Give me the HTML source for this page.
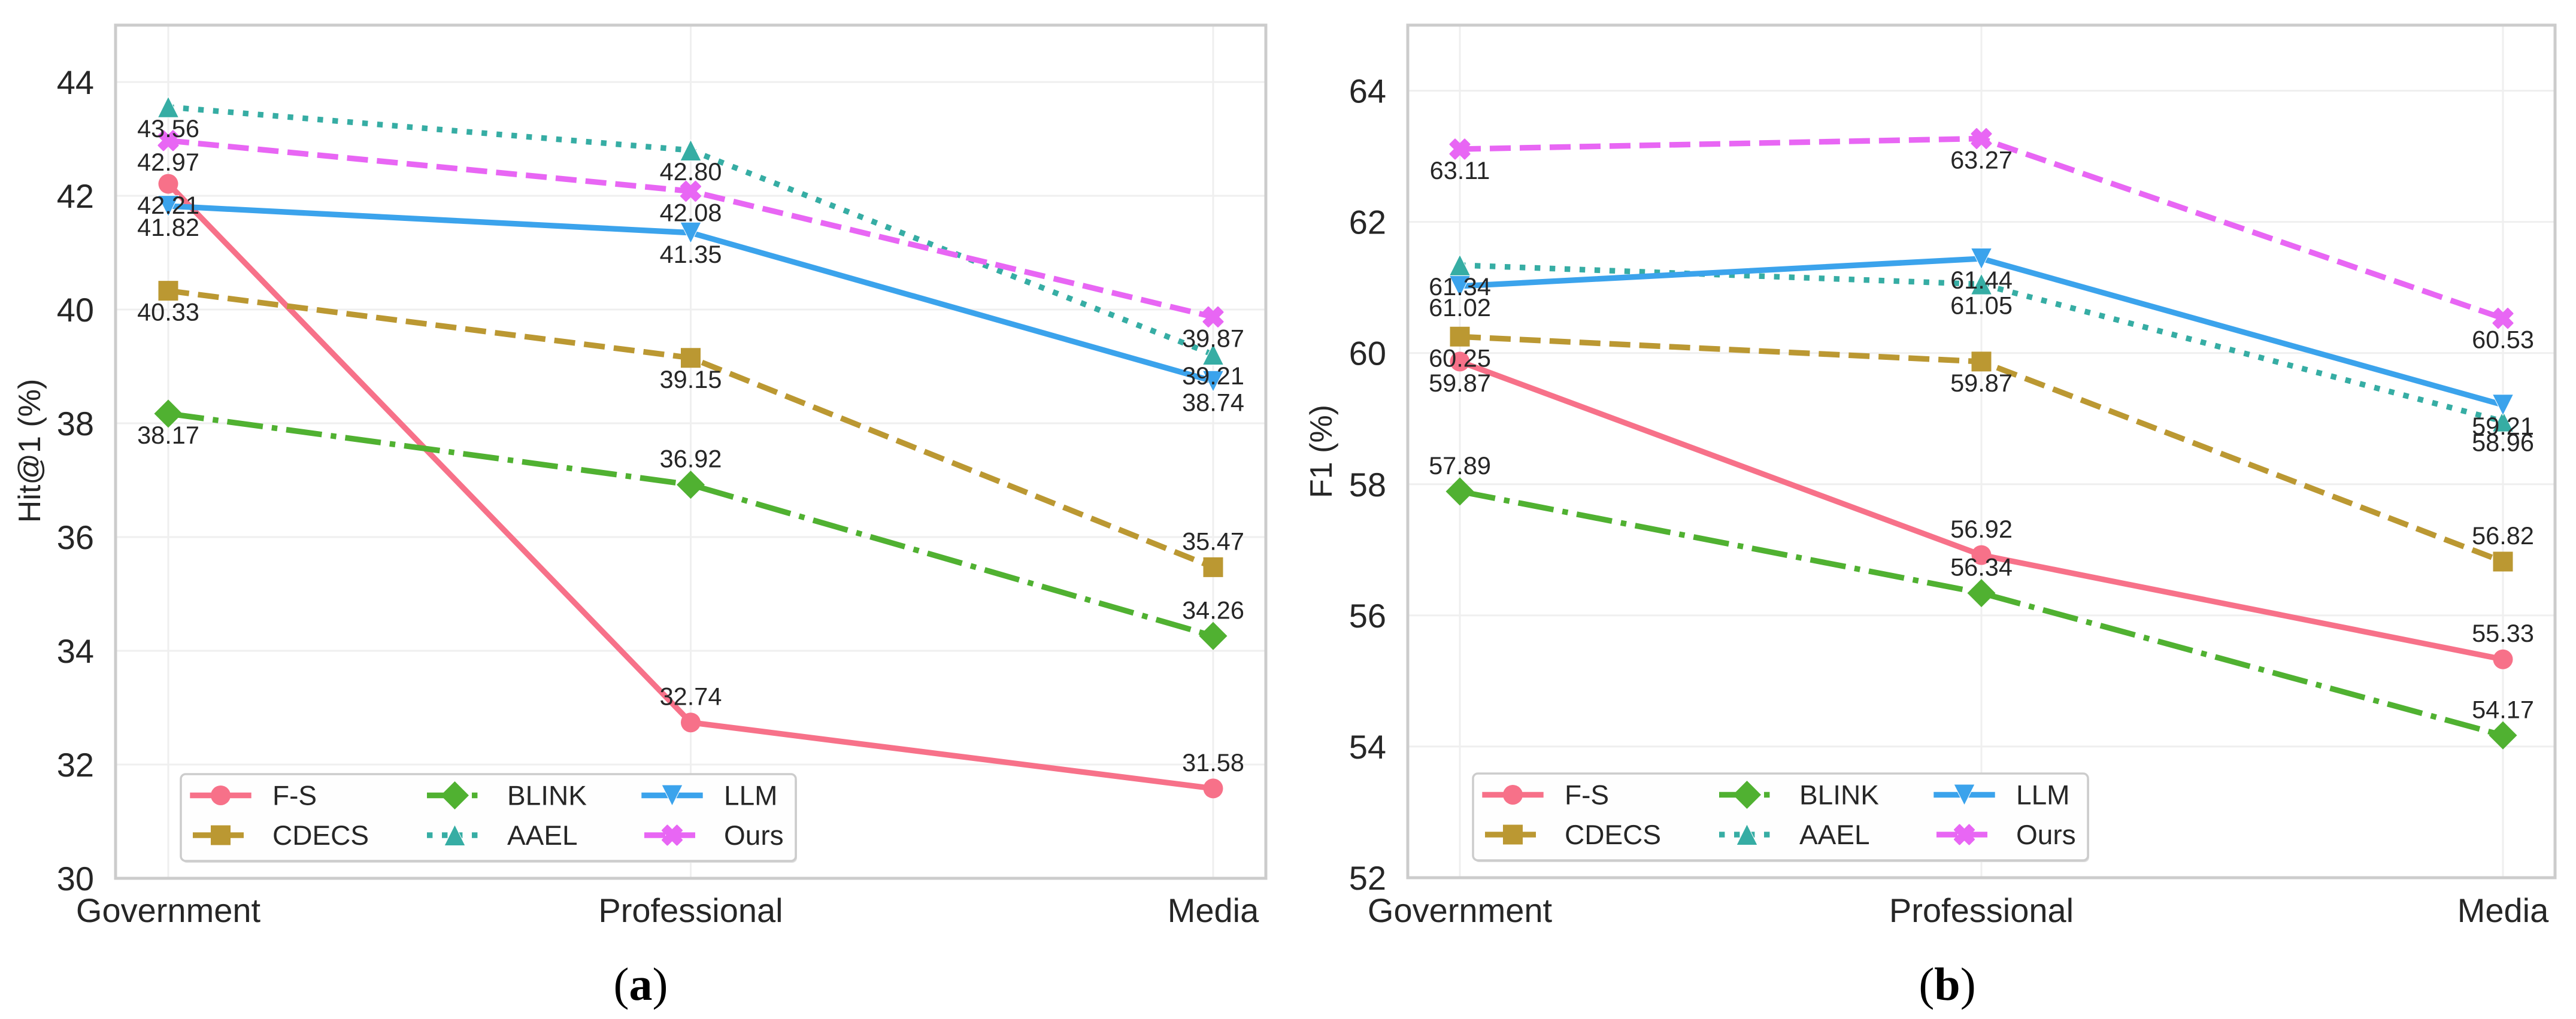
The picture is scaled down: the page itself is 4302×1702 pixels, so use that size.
<!DOCTYPE html>
<html lang="en">
<head>
<meta charset="utf-8">
<title>Hit@1 and F1 by domain</title>
<style>
  html, body { margin: 0; padding: 0; background: #ffffff; }
  svg { display: block; }
  text { font-family: "Liberation Sans", Arial, sans-serif; fill: #262626; text-rendering: geometricPrecision; }
  .caption { font-family: "Liberation Serif", "Times New Roman", serif; fill: #000000; }
</style>
</head>
<body>
<svg id="chart" xmlns="http://www.w3.org/2000/svg" width="4302" height="1702" viewBox="0 0 4302 1702"></svg>
<script>
// ---- Data ----
const categories = ['Government', 'Professional', 'Media'];
const seriesNames = ['F-S', 'CDECS', 'BLINK', 'AAEL', 'LLM', 'Ours'];

const hitFS    = [42.21, 32.74, 31.58];
const hitCDECS = [40.33, 39.15, 35.47];
const hitBLINK = [38.17, 36.92, 34.26];
const hitAAEL  = [43.56, 42.80, 39.21];
const hitLLM   = [41.82, 41.35, 38.74];
const hitOurs  = [42.97, 42.08, 39.87];

const f1FS    = [59.87, 56.92, 55.33];
const f1CDECS = [60.25, 59.87, 56.82];
const f1BLINK = [57.89, 56.34, 54.17];
const f1AAEL  = [61.34, 61.05, 58.96];
const f1LLM   = [61.02, 61.44, 59.21];
const f1Ours  = [63.11, 63.27, 60.53];

const hitTicks = [30, 32, 34, 36, 38, 40, 42, 44];
const f1Ticks  = [52, 54, 56, 58, 60, 62, 64];

// Which printed values sit above their marker (1) rather than below (0)
const hitAbove = [[0, 1, 1], [0, 0, 1], [0, 1, 1], [0, 0, 0], [0, 0, 0], [0, 0, 0]];
const f1Above  = [[0, 1, 1], [0, 0, 1], [1, 1, 1], [0, 0, 0], [0, 0, 0], [0, 0, 0]];

// ---- Styling ----
const LW = 9.4;
const seriesStyles = [
  { color: '#f77189', dash: '',             marker: 'circle'   },
  { color: '#bb9832', dash: '35 15',        marker: 'square'   },
  { color: '#50b131', dash: '60 15 9.4 15', marker: 'diamond'  },
  { color: '#36ada4', dash: '9.4 15.6',     marker: 'triangle' },
  { color: '#3ba3ec', dash: '',             marker: 'triangle-down' },
  { color: '#e866f4', dash: '35 15',        marker: 'x'        }
];

const panels = [
  {
    key: 'hit', title: 'Hit@1 (%)', caption: 'a', captionX: 1070,
    left: 193, right: 2114, top: 42, bottom: 1467,
    x0: 281, x2: 2026, yMin: 30, yMax: 45,
    ticks: hitTicks, above: hitAbove,
    values: [hitFS, hitCDECS, hitBLINK, hitAAEL, hitLLM, hitOurs],
    tickRight: 157, titleX: 67, titleY: 753
  },
  {
    key: 'f1', title: 'F1 (%)', caption: 'b', captionX: 3252,
    left: 2351, right: 4267, top: 42, bottom: 1466,
    x0: 2438, x2: 4180, yMin: 52, yMax: 65,
    ticks: f1Ticks, above: f1Above,
    values: [f1FS, f1CDECS, f1BLINK, f1AAEL, f1LLM, f1Ours],
    tickRight: 2315, titleX: 2224, titleY: 754
  }
];

// ---- Helpers ----
const NS = 'http://www.w3.org/2000/svg';
const root = document.getElementById('chart');

function mk(tag, attrs, parent, txt) {
  const node = document.createElementNS(NS, tag);
  for (const k in attrs) node.setAttribute(k, attrs[k]);
  if (txt !== undefined) node.textContent = txt;
  parent.appendChild(node);
  return node;
}

function slug(s) {
  return s.toLowerCase().replace(/[^a-z0-9]+/g, '-');
}

function markerPoints(kind, cx, cy) {
  if (kind === 'square') {
    const s = 16.5;
    return [[cx - s, cy - s], [cx + s, cy - s], [cx + s, cy + s], [cx - s, cy + s]];
  }
  if (kind === 'diamond') {
    const s = 23.5;
    return [[cx, cy - s], [cx + s, cy], [cx, cy + s], [cx - s, cy]];
  }
  if (kind === 'triangle') {
    const s = 17.5;
    return [[cx, cy - s], [cx + s, cy + s], [cx - s, cy + s]];
  }
  if (kind === 'triangle-down') {
    const s = 17.5;
    return [[cx - s, cy - s], [cx + s, cy - s], [cx, cy + s]];
  }
  const u = 8;
  const shape = [[-1, -2], [0, -1], [1, -2], [2, -1], [1, 0], [2, 1], [1, 2], [0, 1], [-1, 2], [-2, 1], [-1, 0], [-2, -1]];
  return shape.map(function (p) { return [cx + p[0] * u, cy + p[1] * u]; });
}

function drawMarker(kind, color, cx, cy, parent) {
  if (kind === 'circle') {
    return mk('circle', { cx: cx, cy: cy, r: 16.5, fill: color }, parent);
  }
  const pts = markerPoints(kind, cx, cy).map(function (p) { return p.join(','); }).join(' ');
  if (kind === 'x') {
    return mk('polygon', { points: pts, fill: color, stroke: color, 'stroke-width': 3, 'stroke-linejoin': 'round' }, parent);
  }
  if (kind === 'triangle' || kind === 'triangle-down') {
    return mk('polygon', { points: pts, fill: color, stroke: '#ffffff', 'stroke-width': 1 }, parent);
  }
  return mk('polygon', { points: pts, fill: color }, parent);
}

// ---- Panels ----
panels.forEach(function (p) {
  const panelGroup = mk('g', {}, root);
  
  

  const xScale = function (i) { return p.x0 + (p.x2 - p.x0) * i / (categories.length - 1); };
  const yScale = function (v) { return p.bottom - (v - p.yMin) * (p.bottom - p.top) / (p.yMax - p.yMin); };

  // Grid
  p.ticks.forEach(function (t) {
    const gridY = mk('line', { x1: p.left, x2: p.right, y1: yScale(t), y2: yScale(t), stroke: '#efefef', 'stroke-width': 3 }, panelGroup);
    
    
  });
  categories.forEach(function (c, i) {
    const gridX = mk('line', { x1: xScale(i), x2: xScale(i), y1: p.top, y2: p.bottom, stroke: '#efefef', 'stroke-width': 3 }, panelGroup);
    
    
  });

  // Frame
  const frame = mk('rect', { x: p.left, y: p.top, width: p.right - p.left, height: p.bottom - p.top, fill: 'none', stroke: '#cccccc', 'stroke-width': 5 }, panelGroup);
  
  

  // Axis tick labels
  p.ticks.forEach(function (t) {
    const tickLabel = mk('text', { x: p.tickRight, y: yScale(t) + 20, 'text-anchor': 'end', 'font-size': 56 }, panelGroup, String(t));
    
    
  });
  categories.forEach(function (c, i) {
    const catLabel = mk('text', { x: xScale(i), y: 1540, 'text-anchor': 'middle', 'font-size': 56 }, panelGroup, c);
    
    
  });

  // Y-axis title
  const yTitle = mk('text', { x: p.titleX, y: p.titleY, 'text-anchor': 'middle', 'font-size': 52, transform: 'rotate(-90 ' + p.titleX + ' ' + p.titleY + ')' }, panelGroup, p.title);
  
  

  // Series lines + markers
  p.values.forEach(function (vals, s) {
    const st = seriesStyles[s];
    const seriesGroup = mk('g', {}, panelGroup);
    
    

    const d = vals.map(function (v, i) { return (i ? 'L' : 'M') + xScale(i) + ' ' + yScale(v); }).join(' ');
    const attrs = { d: d, fill: 'none', stroke: st.color, 'stroke-width': LW, 'stroke-linejoin': 'round' };
    if (st.dash) attrs['stroke-dasharray'] = st.dash;
    const line = mk('path', attrs, seriesGroup);
    
    

    vals.forEach(function (v, i) {
      const mark = drawMarker(st.marker, st.color, xScale(i), yScale(v), seriesGroup);
      
      
    });
  });

  // Printed values (above all series)
  p.values.forEach(function (vals, s) {
    vals.forEach(function (v, i) {
      const cy = yScale(v) + (p.above[s][i] ? -44 : 35);
      const valueLabel = mk('text', { x: xScale(i), y: cy + 15, 'text-anchor': 'middle', 'font-size': 41.5 }, panelGroup, v.toFixed(2));
      
      
    });
  });

  // Legend
  const dx = p.left - 193;
  const lb = p.bottom - 1467;
  const legend = mk('g', { transform: 'translate(' + dx + ' ' + lb + ')' }, panelGroup);
  
  

  const legendShadow = mk('rect', { x: 304, y: 1297, width: 1027, height: 144, rx: 8, fill: '#dddddd' }, legend);
  
  
  const legendBox = mk('rect', { x: 302, y: 1293, width: 1027, height: 145, rx: 8, fill: '#ffffff', 'fill-opacity': 0.97, stroke: '#cccccc', 'stroke-width': 3.5 }, legend);
  
  

  const handleStart = [322, 713, 1076];
  const labelStart = [455, 847, 1209];
  const rowCentre = [1328.5, 1395];
  seriesNames.forEach(function (name, s) {
    const col = Math.floor(s / 2);
    const row = s % 2;
    const st = seriesStyles[s];
    const entry = mk('g', {}, legend);
    
    
    const a = { x1: handleStart[col], x2: handleStart[col] + 93, y1: rowCentre[row], y2: rowCentre[row], stroke: st.color, 'stroke-width': LW };
    if (st.dash) a['stroke-dasharray'] = st.dash;
    else a['stroke-linecap'] = 'square';
    const sample = mk('line', a, entry);
    
    
    const sampleMark = drawMarker(st.marker, st.color, handleStart[col] + 46.5, rowCentre[row], entry);
    
    
    const entryLabel = mk('text', { x: labelStart[col], y: rowCentre[row] + 16, 'font-size': 46 }, entry, name);
    
    
  });

  // Sub-figure caption
  const cap = mk('text', { class: 'caption', x: p.captionX, y: 1670, 'text-anchor': 'middle', 'font-size': 78 }, panelGroup);
  
  
  mk('tspan', {}, cap, '(');
  mk('tspan', { 'font-weight': 'bold' }, cap, p.caption);
  mk('tspan', {}, cap, ')');
});
</script>
</body>
</html>
